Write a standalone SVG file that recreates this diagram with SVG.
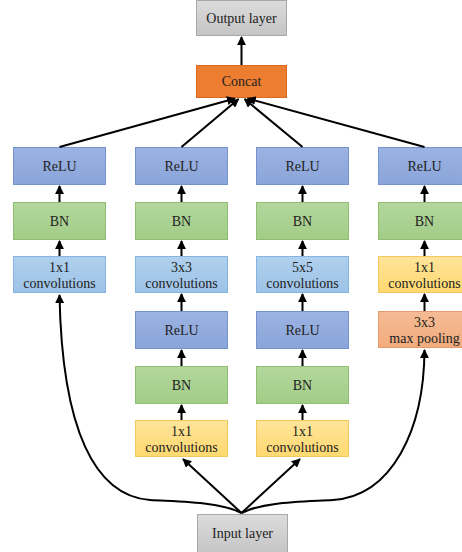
<svg xmlns="http://www.w3.org/2000/svg" width="462" height="552" viewBox="0 0 462 552">
<defs>
<linearGradient id="gGray" x1="0" y1="0" x2="0" y2="1"><stop offset="0" stop-color="#dcdcdc"/><stop offset="1" stop-color="#c4c4c4"/></linearGradient>
<linearGradient id="gBlue" x1="0" y1="0" x2="0" y2="1"><stop offset="0" stop-color="#9cb3e2"/><stop offset="1" stop-color="#8aa5da"/></linearGradient>
<linearGradient id="gGreen" x1="0" y1="0" x2="0" y2="1"><stop offset="0" stop-color="#b3d79c"/><stop offset="1" stop-color="#a3cc88"/></linearGradient>
<linearGradient id="gConv" x1="0" y1="0" x2="0" y2="1"><stop offset="0" stop-color="#b0d0ee"/><stop offset="1" stop-color="#9cc3e6"/></linearGradient>
<linearGradient id="gYellow" x1="0" y1="0" x2="0" y2="1"><stop offset="0" stop-color="#ffe49a"/><stop offset="1" stop-color="#ffd970"/></linearGradient>
<linearGradient id="gSalmon" x1="0" y1="0" x2="0" y2="1"><stop offset="0" stop-color="#f6bc95"/><stop offset="1" stop-color="#f2ab7d"/></linearGradient>
<marker id="ah" viewBox="0 0 10 10" refX="9" refY="5" markerWidth="4.5" markerHeight="4.5" orient="auto" markerUnits="strokeWidth">
<path d="M0,0 L10,5 L0,10 z" fill="#000"/>
</marker>
</defs>
<style>
text{font-family:'Liberation Serif','DejaVu Serif',serif}
.gray{fill:url(#gGray);stroke:#a8a8a8;stroke-width:1}
.blue{fill:url(#gBlue);stroke:#7593cf;stroke-width:1}
.green{fill:url(#gGreen);stroke:#8fbd72;stroke-width:1}
.conv{fill:url(#gConv);stroke:#86b4de;stroke-width:1}
.yellow{fill:url(#gYellow);stroke:#f2c75c;stroke-width:1}
.salmon{fill:url(#gSalmon);stroke:#e39a6c;stroke-width:1}
.orange{fill:#ed7d31;stroke:#d8691f;stroke-width:1}
.c{fill:none;stroke:#000;stroke-width:2;marker-end:url(#ah)}
</style>
<rect width="462" height="552" fill="#fff"/>
<g font-family="'Liberation Serif','DejaVu Serif',serif" font-size="14" fill="#222" text-anchor="middle">
<g id="output"><rect class="gray" x="196.5" y="0.5" width="90" height="35"/><text x="241.5" y="22.5">Output layer</text></g>
<g id="concat"><rect class="orange" x="196.5" y="65.5" width="90" height="32"/><text x="241.5" y="86">Concat</text></g>

<g id="relu1"><rect class="blue" x="13.5" y="147.5" width="92" height="37"/><text x="59.5" y="171">ReLU</text></g>
<g id="bn1"><rect class="green" x="13.5" y="202.5" width="92" height="37"/><text x="59.5" y="226">BN</text></g>
<g id="conv1"><rect class="conv" x="13.5" y="256.5" width="92" height="36"/><text x="59.5" y="272">1x1</text><text x="59.5" y="287.5">convolutions</text></g>

<g id="relu2"><rect class="blue" x="135.5" y="147.5" width="92" height="37"/><text x="181.5" y="171">ReLU</text></g>
<g id="bn2"><rect class="green" x="135.5" y="202.5" width="92" height="37"/><text x="181.5" y="226">BN</text></g>
<g id="conv2"><rect class="conv" x="135.5" y="256.5" width="92" height="36"/><text x="181.5" y="272">3x3</text><text x="181.5" y="287.5">convolutions</text></g>
<g id="relu2b"><rect class="blue" x="135.5" y="311.5" width="92" height="37"/><text x="181.5" y="335">ReLU</text></g>
<g id="bn2b"><rect class="green" x="135.5" y="366.5" width="92" height="37"/><text x="181.5" y="390">BN</text></g>
<g id="conv2b"><rect class="yellow" x="135.5" y="420.5" width="92" height="36"/><text x="181.5" y="436">1x1</text><text x="181.5" y="451.5">convolutions</text></g>

<g id="relu3"><rect class="blue" x="256.5" y="147.5" width="92" height="37"/><text x="302.5" y="171">ReLU</text></g>
<g id="bn3"><rect class="green" x="256.5" y="202.5" width="92" height="37"/><text x="302.5" y="226">BN</text></g>
<g id="conv3"><rect class="conv" x="256.5" y="256.5" width="92" height="36"/><text x="302.5" y="272">5x5</text><text x="302.5" y="287.5">convolutions</text></g>
<g id="relu3b"><rect class="blue" x="256.5" y="311.5" width="92" height="37"/><text x="302.5" y="335">ReLU</text></g>
<g id="bn3b"><rect class="green" x="256.5" y="366.5" width="92" height="37"/><text x="302.5" y="390">BN</text></g>
<g id="conv3b"><rect class="yellow" x="256.5" y="420.5" width="92" height="36"/><text x="302.5" y="436">1x1</text><text x="302.5" y="451.5">convolutions</text></g>

<g id="relu4"><rect class="blue" x="378.5" y="147.5" width="92" height="37"/><text x="424.5" y="171">ReLU</text></g>
<g id="bn4"><rect class="green" x="378.5" y="202.5" width="92" height="37"/><text x="424.5" y="226">BN</text></g>
<g id="conv4"><rect class="yellow" x="378.5" y="256.5" width="92" height="36"/><text x="424.5" y="272">1x1</text><text x="424.5" y="287.5">convolutions</text></g>
<g id="pool4"><rect class="salmon" x="378.5" y="311.5" width="92" height="36"/><text x="424.5" y="327">3x3</text><text x="424.5" y="342.5">max pooling</text></g>

<g id="input"><rect class="gray" x="197.5" y="514.5" width="90" height="40"/><text x="242.5" y="538">Input layer</text></g>
</g>
<g id="connectors">
<path class="c" d="M241.5,65 L241.5,37"/>
<path class="c" d="M59.5,147 L235,98.5"/>
<path class="c" d="M181.5,147 L238.5,99"/>
<path class="c" d="M302.5,147 L244.5,99"/>
<path class="c" d="M424.5,147 L247.5,98.5"/>
<path class="c" d="M59.5,202 L59.5,186"/>
<path class="c" d="M59.5,256 L59.5,241"/>
<path class="c" d="M181.5,202 L181.5,186"/>
<path class="c" d="M181.5,256 L181.5,241"/>
<path class="c" d="M181.5,311 L181.5,294"/>
<path class="c" d="M181.5,366 L181.5,350"/>
<path class="c" d="M181.5,420 L181.5,405"/>
<path class="c" d="M302.5,202 L302.5,186"/>
<path class="c" d="M302.5,256 L302.5,241"/>
<path class="c" d="M302.5,311 L302.5,294"/>
<path class="c" d="M302.5,366 L302.5,350"/>
<path class="c" d="M302.5,420 L302.5,405"/>
<path class="c" d="M424.5,202 L424.5,186"/>
<path class="c" d="M424.5,256 L424.5,241"/>
<path class="c" d="M424.5,311 L424.5,294"/>
<path class="c" d="M241.5,513 L183,459"/>
<path class="c" d="M241.5,513 L300,459"/>
<path class="c" d="M241.5,513 C220,502 185,502 150,500 C95,496 62,430 59.5,295"/>
<path class="c" d="M241.5,513 C263,502 298,502 333,500 C392,496 424,430 424.5,350"/>
</g>
</svg>
